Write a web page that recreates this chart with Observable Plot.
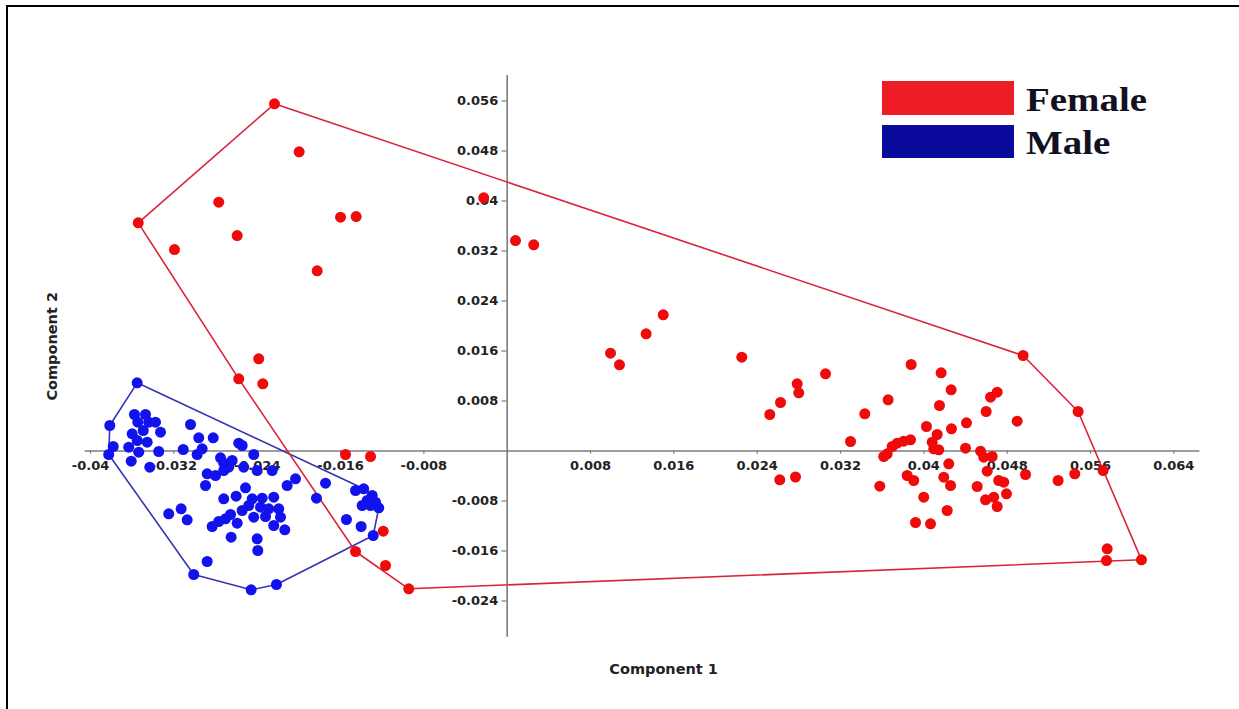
<!DOCTYPE html>
<html>
<head>
<meta charset="utf-8">
<script src="https://cdn.jsdelivr.net/npm/d3@7"></script>
<script src="https://cdn.jsdelivr.net/npm/@observablehq/plot@0.6"></script>
<style>
  html, body { margin: 0; padding: 0; background: #fff; }
  #wrap { position: relative; width: 1239px; height: 709px; overflow: hidden; background: #fff; }
  #wrap svg { position: absolute; left: 0; top: 0; }
  .frame { position: absolute; left: 6px; top: 5px; right: -20px; bottom: -20px; border-left: 2px solid #000; border-top: 2px solid #000; pointer-events: none; }
  .swatch { position: absolute; left: 882px; width: 132px; }
  .lab { position: absolute; left: 1026px; font-family: "Liberation Serif", "Times New Roman", serif; font-weight: bold; font-size: 33px; line-height: 33px; color: #111122; white-space: nowrap; transform: scaleX(1.18); transform-origin: left center; }
</style>
</head>
<body>
<div id="wrap">
  <div class="frame"></div>
</div>
<script>
// ---- Data (Component 1, Component 2) ----
const femaleX = [-0.02234,-0.01997,-0.02769,-0.01600,-0.01450,-0.03542,-0.02592,-0.03194,-0.01824,-0.00225,
  0.00080,0.00255,-0.02385,-0.02577,-0.02346,-0.01552,-0.01312,-0.01190,-0.01456,-0.01168,
  -0.00945,0.01498,0.01334,0.00992,0.01078,0.02252,0.03056,0.02784,0.02799,0.02624,
  0.02521,0.02617,0.02768,0.03878,0.04166,0.04262,0.04704,0.04640,0.03657,0.04150,
  0.04598,0.03433,0.04953,0.04896,0.04409,0.04025,0.04265,0.04128,0.03296,0.03872,
  0.03807,0.03744,0.03696,0.03648,0.03615,0.04080,0.04095,0.04143,0.04400,0.04544,
  0.04575,0.04656,0.04239,0.04608,0.04976,0.03840,0.03903,0.04191,0.04256,0.03577,
  0.04512,0.04719,0.04767,0.04793,0.03999,0.04592,0.04671,0.04704,0.04224,0.03920,
  0.04064,0.05481,0.05721,0.05449,0.05289,0.05760,0.05753,0.06089];
const femaleY = [0.05555,0.04787,0.03981,0.03741,0.03752,0.03651,0.03448,0.03224,0.02883,0.04051,
  0.03368,0.03299,0.01475,0.01155,0.01075,-0.00056,-0.00088,-0.01283,-0.01608,-0.01832,
  -0.02205,0.02179,0.01875,0.01565,0.01379,0.01501,0.01235,0.01075,0.00931,0.00776,
  0.00584,-0.00461,-0.00416,0.01384,0.01251,0.00979,0.00941,0.00861,0.00819,0.00728,
  0.00632,0.00595,0.01528,0.00477,0.00451,0.00392,0.00355,0.00264,0.00152,0.00179,
  0.00157,0.00125,0.00072,-0.00045,-0.00088,0.00141,0.00035,0.00019,0.00045,-0.00003,
  -0.00099,-0.00088,-0.00205,-0.00323,-0.00376,-0.00392,-0.00472,-0.00419,-0.00552,-0.00563,
  -0.00568,-0.00472,-0.00499,-0.00685,-0.00739,-0.00781,-0.00739,-0.00888,-0.00952,-0.01144,
  -0.01165,0.00632,-0.00312,-0.00365,-0.00472,-0.01565,-0.01752,-0.01741];

const maleX = [-0.03552,-0.03815,-0.03782,-0.03825,-0.03578,-0.03472,-0.03546,-0.03441,-0.03376,-0.03600,
  -0.03494,-0.03328,-0.03552,-0.03456,-0.03633,-0.03537,-0.03345,-0.03609,-0.03431,-0.03040,
  -0.02961,-0.02822,-0.03110,-0.02976,-0.02928,-0.02577,-0.02544,-0.02752,-0.02721,-0.02640,
  -0.02433,-0.02673,-0.02529,-0.02400,-0.02256,-0.02880,-0.02800,-0.02721,-0.02896,-0.02032,
  -0.02112,-0.01744,-0.02512,-0.02721,-0.02602,-0.02448,-0.02352,-0.02241,-0.01831,-0.02481,
  -0.02368,-0.02289,-0.02193,-0.02544,-0.02656,-0.02704,-0.02433,-0.02320,-0.02176,-0.02592,
  -0.02769,-0.02832,-0.02135,-0.02241,-0.03249,-0.03130,-0.03072,-0.02650,-0.02400,-0.02394,
  -0.02880,-0.03009,-0.02458,-0.02215,-0.01543,-0.01402,-0.01286,-0.01456,-0.01377,-0.01296,
  -0.01392,-0.01312,-0.01233,-0.01264,-0.01344];
const maleY = [0.01091,0.00408,0.00072,-0.00056,0.00584,0.00584,0.00461,0.00461,0.00461,0.00275,
  0.00328,0.00301,0.00168,0.00141,0.00061,-0.00019,-0.00008,-0.00163,-0.00259,0.00424,
  0.00211,0.00211,0.00024,-0.00056,0.00035,0.00125,0.00088,-0.00109,-0.00195,-0.00152,
  -0.00056,-0.00259,-0.00259,-0.00312,-0.00312,-0.00365,-0.00392,-0.00312,-0.00552,-0.00445,
  -0.00552,-0.00515,-0.00589,-0.00765,-0.00723,-0.00765,-0.00755,-0.00739,-0.00755,-0.00872,
  -0.00899,-0.00925,-0.00925,-0.00952,-0.01016,-0.01085,-0.01059,-0.01048,-0.01059,-0.01155,
  -0.01128,-0.01208,-0.01261,-0.01192,-0.01005,-0.00925,-0.01101,-0.01379,-0.01405,-0.01592,
  -0.01768,-0.01976,-0.02221,-0.02136,-0.01096,-0.01208,-0.01352,-0.00632,-0.00605,-0.00712,
  -0.00872,-0.00872,-0.00909,-0.00819,-0.00792];

const xTicks = [-0.04,-0.032,-0.024,-0.016,-0.008,0.008,0.016,0.024,0.032,0.04,0.048,0.056,0.064];
const yTicks = [0.056,0.048,0.04,0.032,0.024,0.016,0.008,-0.008,-0.016,-0.024];
const groups = ["Female", "Male"];
const groupColors = ["#ee1c24", "#0a0a9c"];
const xTitle = "Component 1";
const yTitle = "Component 2";

// ---- Build tables ----
const female = femaleX.map((x, i) => ({x, y: femaleY[i]}));
const male = maleX.map((x, i) => ({x, y: maleY[i]}));
function closedHull(pts) {
  const h = d3.polygonHull(pts.map(p => [p.x, p.y]));
  h.push(h[0]);
  return h;
}
const hullF = closedHull(female);
const hullM = closedHull(male);

const axisColor = "#7d7d7d";
const labelFont = {fontWeight: "bold", fontSize: 13, fill: "#222"};

const chart = Plot.plot({
  width: 1239,
  height: 709,
  marginLeft: 84.8,
  marginRight: 39.6,
  marginTop: 74.9,
  marginBottom: 72.25,
  x: {domain: [-0.0405, 0.0665], axis: null},
  y: {domain: [-0.0298, 0.0601], axis: null},
  style: {fontFamily: "'DejaVu Sans', sans-serif", background: "transparent"},
  marks: [
    Plot.ruleY([0], {stroke: axisColor, strokeWidth: 1.6}),
    Plot.ruleX([0], {stroke: axisColor, strokeWidth: 1.6}),
    Plot.ruleX(xTicks, {x: d => d, y1: 0, y2: -0.0005, stroke: axisColor, strokeWidth: 1.2}),
    Plot.ruleY(yTicks, {y: d => d, x1: 0, x2: -0.0005, stroke: axisColor, strokeWidth: 1.2}),
    Plot.text(xTicks, {x: d => d, y: 0, text: d => String(d), dy: 15, ...labelFont}),
    Plot.text(yTicks, {x: 0, y: d => d, text: d => String(d), textAnchor: "end", dx: -9, ...labelFont}),
    Plot.text([xTitle], {frameAnchor: "bottom", text: d => d, textAnchor: "middle", lineAnchor: "middle", dx: 21, dy: 32, fontWeight: "bold", fontSize: 14.5, fill: "#222"}),
    Plot.text([yTitle], {frameAnchor: "left", text: d => d, textAnchor: "middle", lineAnchor: "middle", rotate: -90, dx: -33, dy: -10, fontWeight: "bold", fontSize: 14.5, fill: "#222"}),
    Plot.line(hullM, {x: d => d[0], y: d => d[1], stroke: "#3434b4", strokeWidth: 1.6}),
    Plot.line(hullF, {x: d => d[0], y: d => d[1], stroke: "#d8243a", strokeWidth: 1.6}),
    Plot.dot(male, {x: "x", y: "y", r: 5.5, fill: "#1212ee", stroke: "none"}),
    Plot.dot(female, {x: "x", y: "y", r: 5.5, fill: "#f00a0a", stroke: "none"})
  ]
});

const wrap = document.getElementById("wrap");
wrap.insertBefore(chart, wrap.firstChild);

// ---- Legend (overlay) ----
const swatchTops = [81, 125];
const swatchHeights = [34, 33];
const labelTops = [83.5, 126.5];
groups.forEach((g, i) => {
  const s = document.createElement("div");
  s.className = "swatch";
  s.style.top = swatchTops[i] + "px";
  s.style.height = swatchHeights[i] + "px";
  s.style.background = groupColors[i];
  wrap.appendChild(s);
  const t = document.createElement("div");
  t.className = "lab";
  t.style.top = labelTops[i] + "px";
  t.textContent = g;
  wrap.appendChild(t);
});
</script>
</body>
</html>
